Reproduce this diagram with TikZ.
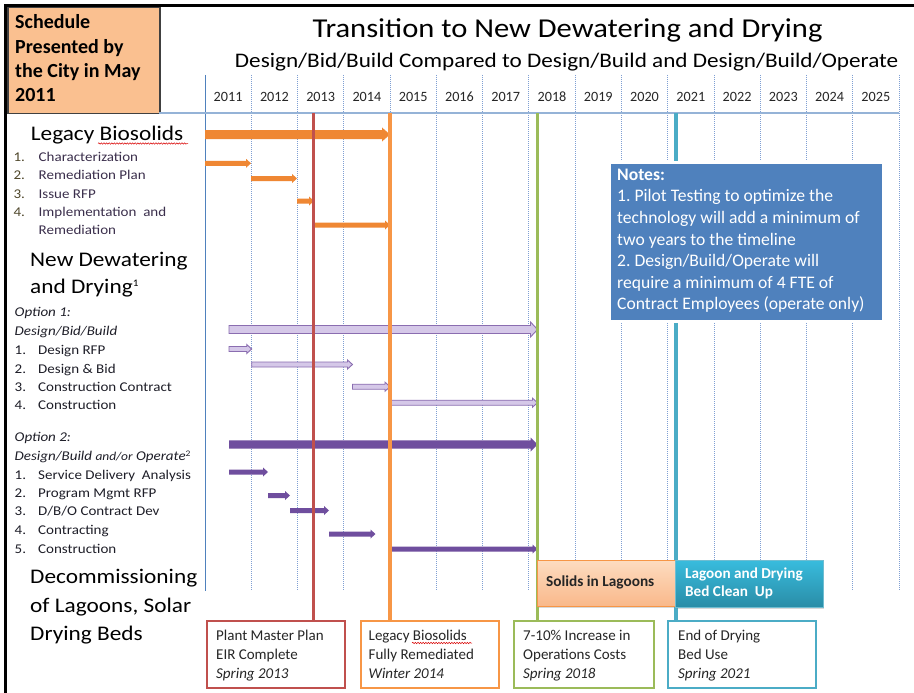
\documentclass[tikz,border=0pt]{standalone}
\usepackage{fontspec}
\setmainfont{Carlito}
\newfontfamily\widefont{Carlito}[FakeStretch=1.12]
\usetikzlibrary{decorations.pathmorphing,shadows}
\frenchspacing
\definecolor{boxorange}{HTML}{FAC090}
\definecolor{barorange}{HTML}{EF8733}
\definecolor{msred}{HTML}{C0504D}
\definecolor{msorange}{HTML}{F79646}
\definecolor{msgreen}{HTML}{9BBB59}
\definecolor{mscyan}{HTML}{4BACC6}
\definecolor{gridblue}{HTML}{7F9FD3}
\definecolor{axisblue}{HTML}{4F81BD}
\definecolor{headblue}{HTML}{95B3D7}
\definecolor{lavfill}{HTML}{D5C8E8}
\definecolor{lavdraw}{HTML}{8A6DB0}
\definecolor{darkpurple}{HTML}{6F4E9E}
\definecolor{notesblue}{HTML}{4F81BD}
\definecolor{itemcol}{HTML}{3B2F4C}
\definecolor{numcol}{HTML}{50482C}
\definecolor{optcol}{HTML}{1E1E28}
\definecolor{solidtop}{HTML}{FDDCC0}
\definecolor{solidbot}{HTML}{F9B88A}
\definecolor{cyantop}{HTML}{38BCDD}
\definecolor{cyanbot}{HTML}{2A8DA7}
\newcommand\ganttbar[7]{\path[#1] (#2,#4-#5) -- (#3-#7,#4-#5) -- (#3-#7,#4-#6) -- (#3,#4) -- (#3-#7,#4+#6) -- (#3-#7,#4+#5) -- (#2,#4+#5) -- cycle;}
\tikzset{
  hd/.style={inner sep=0, anchor=base west, text=black, font=\widefont\fontsize{20.8}{25}\selectfont},
  itm/.style={inner sep=0, anchor=base west, text=itemcol, font=\widefont\fontsize{13.4}{16}\selectfont},
  num/.style={inner sep=0, anchor=base west, text=numcol, font=\widefont\fontsize{13.4}{16}\selectfont},
  oitm/.style={inner sep=0, anchor=base west, text=optcol, font=\widefont\fontsize{13.4}{16}\selectfont},
  ohd/.style={inner sep=0, anchor=base west, text=optcol, font=\widefont\itshape\fontsize{13.4}{16}\selectfont},
  sched/.style={inner sep=0, anchor=base west, text=black, font=\bfseries\fontsize{20}{24}\selectfont},
  yearlbl/.style={inner sep=0, anchor=base, text=black!85, font=\fontsize{14.2}{16}\selectfont},
  gridln/.style={gridblue, line width=0.8, dash pattern=on 1pt off 1pt},
  obar/.style={fill=barorange},
  lbar/.style={fill=lavfill, draw=lavdraw, line width=0.9},
  pbar/.style={fill=darkpurple},
  msline/.style={line width=3.5},
  msbox/.style={draw=#1, line width=2, fill=white, anchor=north west, minimum height=67, inner sep=0},
  boxtxt/.style={inner sep=0, anchor=north west, align=left, text=black!85, font=\fontsize{15}{18.8}\selectfont},
  squiggle/.style={red!85!black, line width=0.5, decorate, decoration={snake, amplitude=0.7pt, segment length=2.6pt}},
}
\begin{document}
\begin{tikzpicture}[x=1pt,y=-1pt]
\useasboundingbox (0,0) rectangle (914,693);
\fill[white] (0,0) rectangle (914,693);

% schedule box
\node[fill=boxorange, draw=black!75, line width=1.5, anchor=north west, minimum width=152, minimum height=106, inner sep=0] (schedbox) at (7,7) {};
\node[sched] (s1) at (15,28.3) {Schedule};
\node[sched] (s2) at (15,53.3) {Presented by};
\node[sched] (s3) at (15,77.7) {the City in May};
\node[sched] (s4) at (15,101.7) {2011};
% outer border
\draw[line width=2.5, black] (5.5,693) -- (5.5,5.5) -- (914,5.5);

% titles
\node[inner sep=0, anchor=base, font=\widefont\fontsize{27.3}{32}\selectfont] (title) at (567.5,37.5) {Transition to New Dewatering and Drying};
\node[inner sep=0, anchor=base, font=\widefont\fontsize{20.7}{25}\selectfont] (subtitle) at (566.7,68) {Design/Bid/Build Compared to Design/Build and Design/Build/Operate};

% grid
\foreach \i in {1,...,15} \draw[gridln] (205+46.267*\i,75) -- (205+46.267*\i,591);
\draw[axisblue, line width=1] (205,75) -- (205,591);
\draw[headblue, line width=2] (159,113) -- (899,113);
\foreach \i/\yr in {0/2011,1/2012,2/2013,3/2014,4/2015,5/2016,6/2017,7/2018,8/2019,9/2020,10/2021,11/2022,12/2023,13/2024,14/2025}
  \node[yearlbl] (yr\yr) at (228.13+46.267*\i,101.5) {\yr};

% legacy bars
\ganttbar{obar}{205}{390}{134.5}{4.5}{7}{8}
\ganttbar{obar}{205}{251}{163.3}{2.5}{4.5}{5}
\ganttbar{obar}{251}{297}{178.5}{2.5}{4.5}{5}
\ganttbar{obar}{297}{314}{201}{2.5}{4.5}{5}
\ganttbar{obar}{313}{390}{225}{2.5}{4.5}{5}
% option 1 bars
\ganttbar{lbar}{229}{537.5}{329.5}{4}{7.5}{7}
\ganttbar{lbar}{229}{251.7}{349}{2.5}{4.5}{5}
\ganttbar{lbar}{251.7}{352.5}{364.5}{2.5}{4.5}{5}
\ganttbar{lbar}{352.5}{390}{386.7}{2.5}{4.5}{5}
\ganttbar{lbar}{390}{537.5}{402.7}{2.5}{4.5}{5}
% option 2 bars
\ganttbar{pbar}{229}{537.5}{444.5}{4.2}{7}{7}
\ganttbar{pbar}{229}{268}{472}{2.5}{4.5}{5}
\ganttbar{pbar}{268}{290}{495.5}{2.5}{4.5}{5}
\ganttbar{pbar}{290}{329}{510.5}{2.5}{4.5}{5}
\ganttbar{pbar}{329}{375.5}{534}{2.5}{4.5}{5}
\ganttbar{pbar}{390}{537.5}{549}{2.5}{4.5}{5}

% milestone boxes
\node[msbox=msred, minimum width=138] (m1) at (206,620) {};
\node[msbox=msorange, minimum width=138.5] (m2) at (359.5,620) {};
\node[msbox=msgreen, minimum width=139.5] (m3) at (513,620) {};
\node[msbox=mscyan, minimum width=148] (m4) at (667,620) {};
\coordinate (r0) at (313.5,113);
\coordinate (o0) at (390,113);
\coordinate (g0) at (537.5,113);
\coordinate (c0) at (676,113);
\draw[msline, msred] (r0) -- (r0 |- m1.north);
\draw[msline, msorange] (o0) -- (o0 |- m2.north);
\draw[msline, msgreen] (g0) -- (g0 |- m3.north);
\draw[msline, mscyan] (c0) -- (c0 |- m4.north);

\node[boxtxt] (m1t) at (216,628) {\rule{0pt}{12.7pt}Plant Master Plan\\EIR Complete\\\textit{Spring 2013}};
\node[boxtxt] (m2t) at (368.5,628) {\rule{0pt}{12.7pt}Legacy Biosolids\\Fully Remediated\\\textit{Winter 2014}};
\node[boxtxt] (m3t) at (523,628) {\rule{0pt}{12.7pt}7-10\% Increase in\\Operations Costs\\\textit{Spring 2018}};
\node[boxtxt] (m4t) at (678,628) {\rule{0pt}{12.7pt}End of Drying\\Bed Use\\\textit{Spring 2021}};
\draw[squiggle] (412,643) -- (472,643);

% solids / lagoon boxes
\node[anchor=north west, minimum width=138, minimum height=46, inner sep=0, top color=solidtop, bottom color=solidbot, draw=msorange, line width=1, drop shadow={shadow xshift=1pt, shadow yshift=-1.5pt, opacity=0.3}] (solids) at (537,560) {};
\node[inner sep=0, anchor=base west, text=black!85, font=\bfseries\fontsize{15.3}{18}\selectfont] (solidst) at (546,586.7) {Solids in Lagoons};
\node[anchor=north west, minimum width=147.5, minimum height=46.5, inner sep=0, top color=cyantop, bottom color=cyanbot, draw=mscyan!80!white, line width=1, drop shadow={shadow xshift=1pt, shadow yshift=-1.5pt, opacity=0.3}] (lagoon) at (675,560) {};
\node[inner sep=0, anchor=base west, text=white, font=\bfseries\fontsize{15.2}{18}\selectfont] (lagoon1) at (685,578.3) {Lagoon and Drying};
\node[inner sep=0, anchor=base west, text=white, font=\bfseries\fontsize{15.2}{18}\selectfont] (lagoon2) at (685,596) {Bed Clean\ \ Up};

% notes
\node[anchor=north west, minimum width=274, minimum height=159, inner sep=0, fill=notesblue, draw=white, line width=2.5, drop shadow={shadow xshift=1.5pt, shadow yshift=-2pt, opacity=0.35}] (notes) at (608,161) {};
\node[inner sep=0, anchor=north west, align=left, text=white, font=\frenchspacing\fontsize{17.6}{21.6}\selectfont] (notest) at (617,166) {\rule{0pt}{14pt}\textbf{Notes:}\\1. Pilot Testing to optimize the\\technology will add a minimum of\\two years to the timeline\\2. Design/Build/Operate will\\require a minimum of 4 FTE of\\Contract Employees (operate only)};

% left column
\node[hd] (h1) at (30.7,140) {Legacy Biosolids};
\draw[squiggle] (98,143.5) -- (188,143.5);
\node[num] (l1n) at (13.3,161.7) {1.};
\node[itm] (l1) at (38.5,161.7) {Characterization};
\node[num] (l2n) at (13.3,179.8) {2.};
\node[itm] (l2) at (38.5,179.8) {Remediation Plan};
\node[num] (l3n) at (13.3,198) {3.};
\node[itm] (l3) at (38.5,198) {Issue RFP};
\node[num] (l4n) at (13.3,216.2) {4.};
\node[itm] (l4) at (38.5,216.2) {Implementation\ \ and};
\node[itm] (l5) at (38.5,234.3) {Remediation};

\node[hd] (h2a) at (30,266.7) {New Dewatering};
\node[hd] (h2b) at (30,293.3) {and Drying\raisebox{7pt}{\fontsize{10}{10}\selectfont 1}};
\node[ohd] (o1a) at (14.5,316) {Option 1:};
\node[ohd] (o1b) at (14.5,335.7) {Design/Bid/Build};
\node[oitm] (a1n) at (14.5,354.5) {1.};
\node[oitm] (a1) at (38,354.5) {Design RFP};
\node[oitm] (a2n) at (14.5,373) {2.};
\node[oitm] (a2) at (38,373) {Design \& Bid};
\node[oitm] (a3n) at (14.5,391) {3.};
\node[oitm] (a3) at (38,391) {Construction Contract};
\node[oitm] (a4n) at (14.5,409.3) {4.};
\node[oitm] (a4) at (38,409.3) {Construction};

\node[ohd] (o2a) at (14.5,441) {Option 2:};
\node[ohd] (o2b) at (14.5,460.7) {Design/Build {\fontsize{12}{14}\selectfont and/or} Operate\raisebox{4.5pt}{\fontsize{8.5}{9}\selectfont\upshape 2}};
\node[oitm] (b1n) at (14.5,479.3) {1.};
\node[oitm] (b1) at (38,479.3) {Service Delivery\ \ Analysis};
\node[oitm] (b2n) at (14.5,497.7) {2.};
\node[oitm] (b2) at (38,497.7) {Program Mgmt RFP};
\node[oitm] (b3n) at (14.5,515.7) {3.};
\node[oitm] (b3) at (38,515.7) {D/B/O Contract Dev};
\node[oitm] (b4n) at (14.5,534) {4.};
\node[oitm] (b4) at (38,534) {Contracting};
\node[oitm] (b5n) at (14.5,553.3) {5.};
\node[oitm] (b5) at (38,553.3) {Construction};

\node[hd] (h3a) at (30,583.3) {Decommissioning};
\node[hd] (h3b) at (30,612.7) {of Lagoons, Solar};
\node[hd] (h3c) at (30,640) {Drying Beds};
\end{tikzpicture}
\end{document}
